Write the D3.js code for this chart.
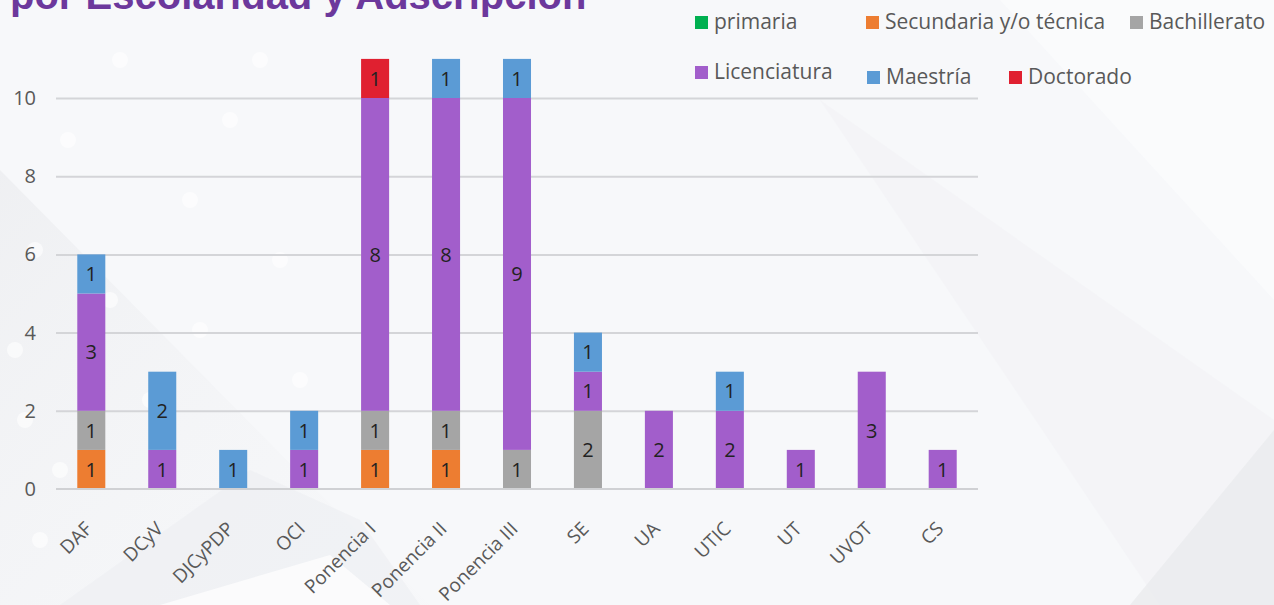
<!DOCTYPE html>
<html>
<head>
<meta charset="utf-8">
<script src="https://cdn.jsdelivr.net/npm/d3@7"></script>
<style>
  body { margin: 0; background: #f7f8fa; overflow: hidden; }
  svg { display: block; }
</style>
</head>
<body>
<svg id="chart" width="1274" height="605"></svg>
<script>
// categories along the x axis
var adscripciones = ["DAF", "DCyV", "DJCyPDP", "OCI", "Ponencia I", "Ponencia II", "Ponencia III",
                     "SE", "UA", "UTIC", "UT", "UVOT", "CS"];

// one array per level of schooling, same order as adscripciones
var primaria     = [0, 0, 0, 0, 0, 0, 0, 0, 0, 0, 0, 0, 0];
var secundaria   = [1, 0, 0, 0, 1, 1, 0, 0, 0, 0, 0, 0, 0];
var bachillerato = [1, 0, 0, 0, 1, 1, 1, 2, 0, 0, 0, 0, 0];
var licenciatura = [3, 1, 0, 1, 8, 8, 9, 1, 2, 2, 1, 3, 1];
var maestria     = [1, 2, 1, 1, 0, 1, 1, 1, 0, 1, 0, 0, 0];
var doctorado    = [0, 0, 0, 0, 1, 0, 0, 0, 0, 0, 0, 0, 0];

var seriesNames = ["primaria", "Secundaria y/o técnica", "Bachillerato", "Licenciatura", "Maestría", "Doctorado"];
var seriesColors = ["#00b050", "#ed7d31", "#a5a5a5", "#a25ecb", "#5b9bd5", "#e02030"];
var yTicks = [0, 2, 4, 6, 8, 10];

var svg = d3.select("#chart");
var width = 1274, height = 605;

// --- background decoration ---
var bg = svg.append("g");
var defs = svg.append("defs");
var g1 = defs.append("linearGradient").attr("id", "shade").attr("x1", 0).attr("y1", 0).attr("x2", 1).attr("y2", 1);
g1.append("stop").attr("offset", 0).attr("stop-color", "#e8e9ec").attr("stop-opacity", 0.8);
g1.append("stop").attr("offset", 1).attr("stop-color", "#f4f5f7").attr("stop-opacity", 0.2);

bg.append("rect").attr("width", width).attr("height", height).attr("fill", "#f7f8fa");
bg.append("polygon").attr("points", "0,170 430,605 0,605").attr("fill", "url(#shade)").attr("opacity", 0.7);
bg.append("polygon").attr("points", "60,605 250,470 360,520 420,605").attr("fill", "#eceef1").attr("opacity", 0.6);
bg.append("polygon").attr("points", "160,605 330,555 390,605").attr("fill", "#fbfbfc");
bg.append("polygon").attr("points", "820,100 1274,420 1274,605 1160,605").attr("fill", "#f1f2f5").attr("opacity", 0.6);
bg.append("polygon").attr("points", "1000,0 1274,0 1274,300").attr("fill", "#fafbfc").attr("opacity", 0.8);
bg.append("polygon").attr("points", "1274,430 1274,605 1130,605").attr("fill", "#eaebee").attr("opacity", 0.8);

var dots = [[68, 140], [35, 250], [110, 300], [150, 400], [25, 420], [60, 470], [190, 200], [230, 120],
            [280, 260], [300, 380], [200, 330], [15, 350], [120, 60], [260, 60], [40, 540]];
bg.selectAll("circle").data(dots).enter().append("circle")
  .attr("cx", function(d) { return d[0]; })
  .attr("cy", function(d) { return d[1]; })
  .attr("r", 8)
  .attr("fill", "#ffffff")
  .attr("opacity", 0.6);

// title, cut off at the top edge
svg.append("text")
  .attr("x", 10).attr("y", 9)
  .attr("font-family", "Liberation Sans, Arial, sans-serif")
  .attr("font-weight", "bold")
  .attr("font-size", 40)
  .attr("fill", "#6c389c")
  .text("por Escolaridad y Adscripción");

// --- chart ---
var margin = {left: 56, right: 296, top: 58, bottom: 116};
var x = d3.scaleBand().domain(adscripciones).range([margin.left, width - margin.right]).paddingInner(0.605).paddingOuter(0.3);
var y = d3.scaleLinear().domain([0, 11]).range([height - margin.bottom, height - margin.bottom - 11 * 39.1]);

var table = adscripciones.map(function(a, i) {
  var row = {cat: a};
  row[seriesNames[0]] = primaria[i];
  row[seriesNames[1]] = secundaria[i];
  row[seriesNames[2]] = bachillerato[i];
  row[seriesNames[3]] = licenciatura[i];
  row[seriesNames[4]] = maestria[i];
  row[seriesNames[5]] = doctorado[i];
  return row;
});
var stacked = d3.stack().keys(seriesNames)(table);
var color = d3.scaleOrdinal().domain(seriesNames).range(seriesColors);

// gridlines
svg.append("g")
  .attr("transform", "translate(" + margin.left + ",0)")
  .call(d3.axisLeft(y).tickValues(yTicks.slice(1)).tickSize(-(width - margin.right - margin.left)).tickFormat(""))
  .call(function(g) { g.select(".domain").remove(); })
  .selectAll("line").attr("stroke", "#d4d5d8").attr("stroke-width", 2);

// y labels
svg.append("g")
  .attr("transform", "translate(" + 36 + ",0)")
  .call(d3.axisLeft(y).tickValues(yTicks).tickSize(0).tickPadding(0))
  .call(function(g) { g.select(".domain").remove(); })
  .selectAll("text")
  .attr("font-family", "Open Sans, sans-serif")
  .attr("font-size", 20)
  .attr("fill", "#595959");

// bars
var layer = svg.append("g").selectAll("g").data(stacked).enter().append("g")
  .attr("fill", function(d) { return color(d.key); });

layer.selectAll("rect").data(function(d) { return d; }).enter().append("rect")
  .attr("x", function(d) { return x(d.data.cat); })
  .attr("width", x.bandwidth())
  .attr("y", function(d) { return y(d[1]); })
  .attr("height", function(d) { return y(d[0]) - y(d[1]); });

// segment labels
layer.selectAll("text").data(function(d) { return d.filter(function(v) { return v[1] - v[0] > 0; }); })
  .enter().append("text")
  .attr("x", function(d) { return x(d.data.cat) + x.bandwidth() / 2; })
  .attr("y", function(d) { return (y(d[0]) + y(d[1])) / 2; })
  .attr("dy", "0.36em")
  .attr("text-anchor", "middle")
  .attr("font-family", "Open Sans, sans-serif")
  .attr("font-size", 20)
  .attr("fill", "#222222")
  .text(function(d) { return d[1] - d[0]; });

// x axis
var xAxis = svg.append("g")
  .attr("transform", "translate(0," + y(0) + ")")
  .call(d3.axisBottom(x).tickSize(0).tickPadding(0));
xAxis.select(".domain").attr("stroke", "#d0d1d4").attr("stroke-width", 2)
  .attr("d", "M" + margin.left + ",0H" + (width - margin.right));
xAxis.selectAll("text")
  .attr("font-family", "Open Sans, sans-serif")
  .attr("font-size", 19)
  .attr("fill", "#595959")
  .attr("text-anchor", "end")
  .attr("dy", 0)
  .attr("transform", "translate(2,41) rotate(-45)");

// legend
var legendItems = [
  {name: seriesNames[0], x: 695, y: 22},
  {name: seriesNames[1], x: 866, y: 22},
  {name: seriesNames[2], x: 1130, y: 22},
  {name: seriesNames[3], x: 695, y: 72},
  {name: seriesNames[4], x: 867, y: 77},
  {name: seriesNames[5], x: 1009, y: 77}
];
var legend = svg.append("g").selectAll("g").data(legendItems).enter().append("g")
  .attr("transform", function(d) { return "translate(" + d.x + "," + d.y + ")"; });
legend.append("rect")
  .attr("x", 0).attr("y", -6).attr("width", 13).attr("height", 13)
  .attr("fill", function(d) { return color(d.name); });
legend.append("text")
  .attr("x", 19).attr("dy", "0.35em")
  .attr("font-family", "Open Sans, sans-serif")
  .attr("font-size", 21)
  .attr("fill", "#595959")
  .text(function(d) { return d.name; });
</script>
</body>
</html>
